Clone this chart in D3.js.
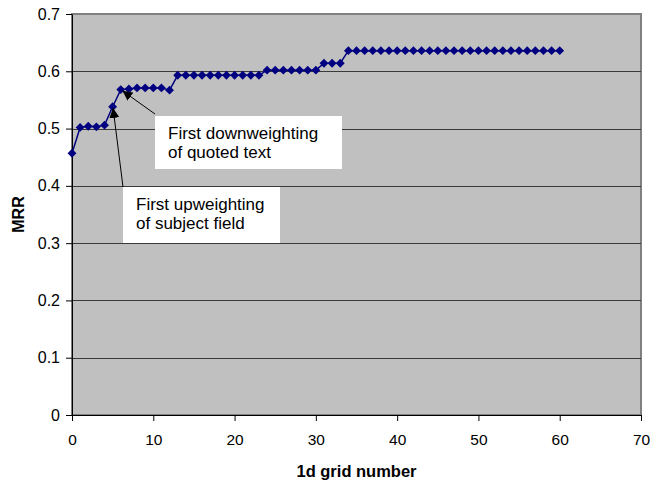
<!DOCTYPE html>
<html>
<head>
<meta charset="utf-8">
<script src="https://cdn.jsdelivr.net/npm/d3@7"></script>
<style>
  body { margin: 0; background: #fff; }
  text { font-family: "Liberation Sans", Arial, sans-serif; }
</style>
</head>
<body>
<script>
var svgWidth = 652
var svgHeight = 481

// data
var gridNumbers = d3.range(0, 61)
var mrrValues = [
  0.457, 0.502, 0.504, 0.503, 0.506, 0.538, 0.568, 0.569, 0.571, 0.571,
  0.571, 0.571, 0.567, 0.593, 0.593, 0.593, 0.593, 0.593, 0.593, 0.593,
  0.593, 0.593, 0.593, 0.593, 0.602, 0.602, 0.602, 0.602, 0.602, 0.602,
  0.602, 0.614, 0.614, 0.614, 0.636, 0.636, 0.636, 0.636, 0.636, 0.636,
  0.636, 0.636, 0.636, 0.636, 0.636, 0.636, 0.636, 0.636, 0.636, 0.636,
  0.636, 0.636, 0.636, 0.636, 0.636, 0.636, 0.636, 0.636, 0.636, 0.636,
  0.636
]
var xTicks = [0, 10, 20, 30, 40, 50, 60, 70]
var yTicks = [0, 0.1, 0.2, 0.3, 0.4, 0.5, 0.6, 0.7]
var noteLines = [
  ['First downweighting', 'of quoted text'],
  ['First upweighting', 'of subject field']
]

var plotLeft = 72
var plotRight = 641
var plotTop = 14
var plotBottom = 415

var svg = d3.select('body')
  .append('svg')
  .attr('width', svgWidth)
  .attr('height', svgHeight)

var x = d3.scaleLinear().domain([0, 70]).range([plotLeft, plotRight])
var y = d3.scaleLinear().domain([0, 0.7]).range([plotBottom, plotTop])

// plot background
svg.append('rect')
  .attr('x', plotLeft)
  .attr('y', plotTop)
  .attr('width', plotRight - plotLeft)
  .attr('height', plotBottom - plotTop)
  .attr('fill', '#c0c0c0')
  .attr('stroke', '#808080')
  .attr('stroke-width', 2)

// gridlines
svg.append('g').selectAll('line')
  .data(yTicks.filter(d => d > 0 && d < 0.7))
  .enter()
  .append('line')
  .attr('x1', plotLeft)
  .attr('x2', plotRight)
  .attr('y1', d => Math.round(y(d)) + 0.5)
  .attr('y2', d => Math.round(y(d)) + 0.5)
  .attr('stroke', '#3a3a3a')
  .attr('stroke-width', 1)

// axes
var xAxis = svg.append('g')
  .attr('transform', 'translate(0,' + plotBottom + ')')
  .call(d3.axisBottom(x).tickValues(xTicks).tickSize(6).tickPadding(13).tickSizeOuter(0))
var yAxis = svg.append('g')
  .attr('transform', 'translate(' + plotLeft + ',0)')
  .call(d3.axisLeft(y).tickValues(yTicks).tickSize(6).tickPadding(6).tickSizeOuter(0)
    .tickFormat(d => d === 0 ? '0' : d3.format('.1f')(d)))

xAxis.selectAll('text').attr('font-size', 15.5).attr('fill', '#000')
yAxis.selectAll('text').attr('font-size', 16).attr('fill', '#000')
xAxis.selectAll('line, path').attr('stroke', '#000')
yAxis.selectAll('line, path').attr('stroke', '#000')

// axis titles
svg.append('text')
  .attr('x', (plotLeft + plotRight) / 2)
  .attr('y', 477)
  .attr('text-anchor', 'middle')
  .attr('font-size', 16.5)
  .attr('font-weight', 'bold')
  .text('1d grid number')

svg.append('text')
  .attr('transform', 'translate(24,' + (plotTop + plotBottom) / 2 + ') rotate(-90)')
  .attr('text-anchor', 'middle')
  .attr('font-size', 16)
  .attr('font-weight', 'bold')
  .text('MRR')

// series line and markers
var points = gridNumbers.map((g, i) => ({ g: g, v: mrrValues[i] }))

svg.append('path')
  .datum(points)
  .attr('d', d3.line().x(d => x(d.g)).y(d => y(d.v)))
  .attr('fill', 'none')
  .attr('stroke', '#000080')
  .attr('stroke-width', 1.5)

svg.append('g').selectAll('path')
  .data(points)
  .enter()
  .append('path')
  .attr('d', d3.symbol().type(d3.symbolDiamond2).size(50))
  .attr('transform', d => 'translate(' + x(d.g) + ',' + y(d.v) + ')')
  .attr('fill', '#000080')

// arrow marker
svg.append('defs').append('marker')
  .attr('id', 'head')
  .attr('viewBox', '0 0 10 10')
  .attr('refX', 10)
  .attr('refY', 5)
  .attr('markerWidth', 10)
  .attr('markerHeight', 10)
  .attr('markerUnits', 'userSpaceOnUse')
  .attr('orient', 'auto')
  .append('path')
  .attr('d', 'M0,0L10,5L0,10Z')
  .attr('fill', '#000')

// annotations
var notes = [
  { box: [155, 116, 187, 53], from: [155, 114], to: [x(6.2), y(0.566)], lines: noteLines[0] },
  { box: [123, 187, 157, 56], from: [123, 187], to: [x(5.05), y(0.536)], lines: noteLines[1] }
]

notes.forEach(n => {
  svg.append('line')
    .attr('x1', n.from[0])
    .attr('y1', n.from[1])
    .attr('x2', n.to[0])
    .attr('y2', n.to[1])
    .attr('stroke', '#000')
    .attr('stroke-width', 1)
    .attr('marker-end', 'url(#head)')

  svg.append('rect')
    .attr('x', n.box[0])
    .attr('y', n.box[1])
    .attr('width', n.box[2])
    .attr('height', n.box[3])
    .attr('fill', '#fff')

  svg.append('g').selectAll('text')
    .data(n.lines)
    .enter()
    .append('text')
    .attr('x', n.box[0] + 13)
    .attr('y', (d, i) => n.box[1] + 23 + i * 19)
    .attr('font-size', 17)
    .attr('fill', '#000')
    .text(d => d)
})
</script>
</body>
</html>
